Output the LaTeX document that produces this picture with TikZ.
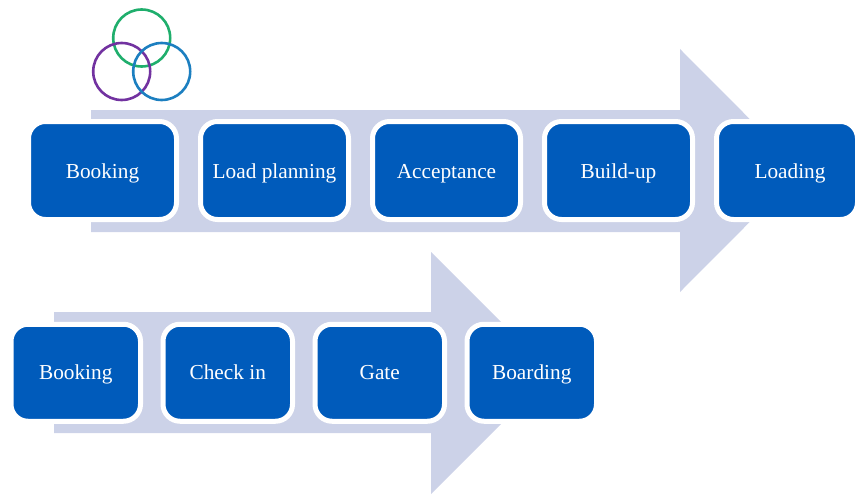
\documentclass[tikz,border=0pt]{standalone}
\usepackage{fontspec}
\setmainfont{Liberation Serif}
\usetikzlibrary{positioning}
\definecolor{stepblue}{HTML}{005BBB}
\definecolor{arrowgrey}{HTML}{CCD2E8}
\definecolor{ringgreen}{HTML}{1FAE6C}
\definecolor{ringpurple}{HTML}{7232A0}
\definecolor{ringblue}{HTML}{1C7FC0}
\begin{document}
\begin{tikzpicture}[x=1pt,y=-1pt,
                        ring/.style={line width=2.6pt},
                        flow arrow/.style={fill=arrowgrey},
                        main node/.style={rectangle,draw=white,fill=stepblue,line width=5pt,
                        rounded corners=17pt,inner sep=0pt,outer sep=0pt,text=white,
                        font=\fontsize{21.3}{24}\selectfont,text depth=5pt},
                        cargo node/.style={main node,minimum width=148pt,minimum height=98pt,text height=20.5pt},
                        pax node/.style={main node,minimum width=129.5pt,minimum height=97pt,text height=19pt}]

    \useasboundingbox (0,0) rectangle (856,495);

    % Define arrows
    \fill[flow arrow] (91,110) -- (680,110) -- (680,49) -- (801,170.5) -- (680,292) -- (680,232) -- (91,232) -- cycle;
    \fill[flow arrow] (54,312) -- (431,312) -- (431,252) -- (552,373) -- (431,494) -- (431,433) -- (54,433) -- cycle;

    % Define rings
    \draw[ring,ringgreen] (141.7,38) circle (28.5);
    \draw[ring,ringpurple] (121.7,71.5) circle (28.5);
    \draw[ring,ringblue] (161.7,71.5) circle (28.5);

    % Define vertices
    \begin{scope}[node distance=24pt]
    \node[cargo node,anchor=west] (booking) at (28.5,170.5) {Booking};
    \node[cargo node,right=of booking] (planning) {Load planning};
    \node[cargo node,right=of planning] (acceptance) {Acceptance};
    \node[cargo node,right=of acceptance] (buildup) {Build-up};
    \node[cargo node,minimum width=141pt,right=of buildup] (loading) {\hspace*{6pt}Loading};
    \end{scope}

    \begin{scope}[node distance=22.5pt]
    \node[pax node,anchor=west] (paxbooking) at (11,372.75) {Booking};
    \node[pax node,right=of paxbooking] (checkin) {Check in};
    \node[pax node,right=of checkin] (gate) {Gate};
    \node[pax node,right=of gate] (boarding) {Boarding};
    \end{scope}

    \end{tikzpicture}
\end{document}
